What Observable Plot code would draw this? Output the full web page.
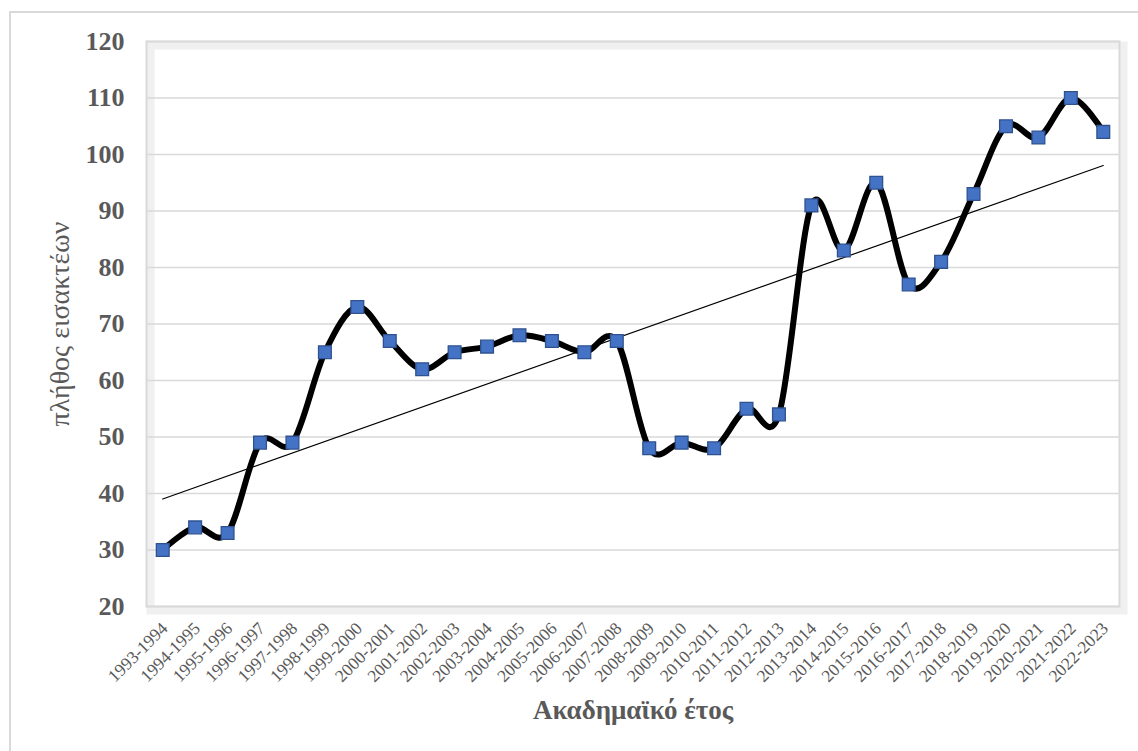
<!DOCTYPE html>
<html>
<head>
<meta charset="utf-8">
<script src="https://cdn.jsdelivr.net/npm/d3@7"></script>
<script src="https://cdn.jsdelivr.net/npm/@observablehq/plot@0.6"></script>
<style>
  body { margin: 0; background: #fff; }
  #wrap { position: relative; width: 1138px; height: 751px; overflow: hidden; }
  #border { position: absolute; left: 9px; top: 11px; width: 1140px; height: 745px; border: 2px solid #d9d9d9; box-sizing: border-box; }
  #chart { position: absolute; left: 0; top: 0; }
</style>
</head>
<body>
<div id="wrap"><div id="border"></div><div id="chart"></div></div>
<script>
const years = ["1993-1994","1994-1995","1995-1996","1996-1997","1997-1998","1998-1999","1999-2000","2000-2001","2001-2002","2002-2003","2003-2004","2004-2005","2005-2006","2006-2007","2007-2008","2008-2009","2009-2010","2010-2011","2011-2012","2012-2013","2013-2014","2014-2015","2015-2016","2016-2017","2017-2018","2018-2019","2019-2020","2020-2021","2021-2022","2022-2023"];
const admitted = [30,34,33,49,49,65,73,67,62,65,66,68,67,65,67,48,49,48,55,54,91,83,95,77,81,93,105,103,110,104];
const yTicks = [20,30,40,50,60,70,80,90,100,110,120];
const xTitle = "Ακαδημαϊκό έτος";
const yTitle = "πλήθος εισακτέων";

const data = years.map((y, i) => ({i, year: y, value: admitted[i]}));
const font = "'Liberation Serif', 'Times New Roman', serif";

const chart = Plot.plot({
  width: 1138,
  height: 751,
  marginLeft: 146,
  marginRight: 19,
  marginTop: 41,
  marginBottom: 145,
  style: {fontFamily: font, color: "#595959", background: "transparent", overflow: "visible"},
  x: {domain: [-0.5, years.length - 0.5]},
  y: {domain: [20, 120]},
  marks: [
    Plot.frame({stroke: "#f0f0f0", strokeWidth: 8, dx: 4, dy: 4}),
    Plot.gridY(yTicks, {stroke: "#d9d9d9", strokeOpacity: 1, strokeWidth: 1.5}),
    Plot.frame({stroke: "#d9d9d9", strokeWidth: 2}),
    Plot.axisY(yTicks, {tickSize: 0, tickPadding: 22, fontSize: 26, fontWeight: "bold", fontFamily: font, label: null}),
    Plot.axisX(d3.range(years.length), {tickFormat: i => years[i], tickRotate: -45, tickSize: 0, tickPadding: 16, dy: 3, dx: 2, fontSize: 17.5, fontFamily: font, label: null}),
    Plot.linearRegressionY(data, {x: "i", y: "value", stroke: "#000", strokeWidth: 1.2, ci: 0}),
    Plot.line(data, {x: "i", y: "value", stroke: "#000", strokeWidth: 6, curve: "cardinal"}),
    Plot.dot(data, {x: "i", y: "value", symbol: "square", r: 7.2, fill: "#4472C4", stroke: "#2F528F", strokeWidth: 1.3}),
    Plot.text([yTitle], {frameAnchor: "left", textAnchor: "middle", dx: -86, rotate: -90, fontSize: 28, fontFamily: font, fill: "#595959"}),
    Plot.text([xTitle], {frameAnchor: "bottom", dy: 112, fontSize: 27, fontWeight: "bold", fontFamily: font, fill: "#595959"})
  ]
});
document.getElementById("chart").appendChild(chart);
</script>
</body>
</html>
